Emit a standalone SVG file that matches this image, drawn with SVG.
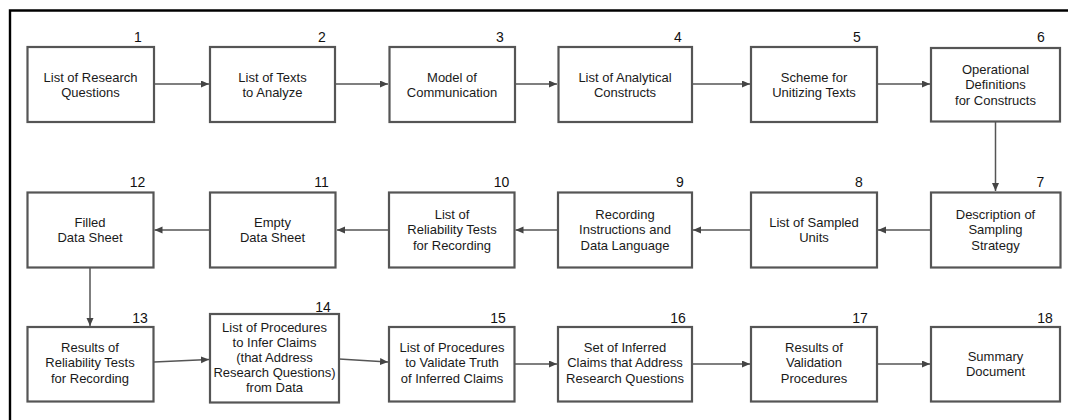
<svg xmlns="http://www.w3.org/2000/svg" width="1070" height="420" viewBox="0 0 1070 420">
<style>
.box{fill:#fff;stroke:#555;stroke-width:2.2}
.t{font-family:"Liberation Sans",Arial,sans-serif;font-size:13px;fill:#1a1a1a;text-anchor:middle}
.n{font-family:"Liberation Sans",Arial,sans-serif;font-size:14px;fill:#111;text-anchor:middle}
.c{fill:none;stroke:#555;stroke-width:1.5}
.frame{fill:none;stroke:#000;stroke-width:2.4}
</style>
<defs>
<marker id="ah" markerUnits="userSpaceOnUse" markerWidth="9" markerHeight="8" refX="8" refY="3.5" orient="auto">
<path d="M0,0 L8,3.5 L0,7 z" fill="#444"/>
</marker>
</defs>
<rect width="1070" height="420" fill="#fff"/>
<path class="frame" d="M10,425 L10,10.5 L1068,10.5"/>

<g id="connectors">
<line class="c" x1="154" y1="84" x2="209" y2="84" marker-end="url(#ah)"/>
<line class="c" x1="335" y1="84" x2="388" y2="84" marker-end="url(#ah)"/>
<line class="c" x1="515" y1="84" x2="557" y2="84" marker-end="url(#ah)"/>
<line class="c" x1="692" y1="84" x2="750" y2="84" marker-end="url(#ah)"/>
<line class="c" x1="877" y1="84" x2="930" y2="84" marker-end="url(#ah)"/>
<line class="c" x1="995.5" y1="122" x2="995.5" y2="191" marker-end="url(#ah)"/>
<line class="c" x1="931" y1="230" x2="878" y2="230" marker-end="url(#ah)"/>
<line class="c" x1="751" y1="230" x2="693" y2="230" marker-end="url(#ah)"/>
<line class="c" x1="558" y1="230" x2="515.5" y2="230" marker-end="url(#ah)"/>
<line class="c" x1="389" y1="230" x2="337" y2="230" marker-end="url(#ah)"/>
<line class="c" x1="210" y1="230" x2="154.5" y2="230" marker-end="url(#ah)"/>
<line class="c" x1="90" y1="268" x2="90" y2="326" marker-end="url(#ah)"/>
<line class="c" x1="154" y1="362" x2="209" y2="359.5" marker-end="url(#ah)"/>
<line class="c" x1="339" y1="359" x2="388" y2="362" marker-end="url(#ah)"/>
<line class="c" x1="514.5" y1="364" x2="557" y2="364" marker-end="url(#ah)"/>
<line class="c" x1="692" y1="364" x2="750" y2="364" marker-end="url(#ah)"/>
<line class="c" x1="877" y1="364" x2="930" y2="364" marker-end="url(#ah)"/>
</g>

<g id="n1"><rect class="box" x="27.5" y="47" width="126.5" height="75"/><text class="n" x="138" y="42">1</text>
<text class="t" x="90.5" y="81.5">List of Research</text><text class="t" x="90.5" y="96.5">Questions</text></g>
<g id="n2"><rect class="box" x="210" y="47" width="125" height="75"/><text class="n" x="322" y="42">2</text>
<text class="t" x="272.5" y="81.5">List of Texts</text><text class="t" x="272.5" y="96.5">to Analyze</text></g>
<g id="n3"><rect class="box" x="389.5" y="47" width="125.5" height="75"/><text class="n" x="500" y="42">3</text>
<text class="t" x="452" y="81.5">Model of</text><text class="t" x="452" y="96.5">Communication</text></g>
<g id="n4"><rect class="box" x="558.5" y="47" width="133.5" height="75"/><text class="n" x="678" y="42">4</text>
<text class="t" x="625" y="81.5">List of Analytical</text><text class="t" x="625" y="96.5">Constructs</text></g>
<g id="n5"><rect class="box" x="751" y="47" width="126" height="75"/><text class="n" x="857" y="42">5</text>
<text class="t" x="814" y="81.5">Scheme for</text><text class="t" x="814" y="96.5">Unitizing Texts</text></g>
<g id="n6"><rect class="box" x="931" y="48" width="129" height="73.5"/><text class="n" x="1041" y="42">6</text>
<text class="t" x="995.5" y="74">Operational</text><text class="t" x="995.5" y="89.3">Definitions</text><text class="t" x="995.5" y="104.6">for Constructs</text></g>

<g id="n7"><rect class="box" x="931" y="192.5" width="129.5" height="75"/><text class="n" x="1040.5" y="187">7</text>
<text class="t" x="995.5" y="219">Description of</text><text class="t" x="995.5" y="234.3">Sampling</text><text class="t" x="995.5" y="249.6">Strategy</text></g>
<g id="n8"><rect class="box" x="751" y="192.5" width="126" height="75"/><text class="n" x="859" y="187">8</text>
<text class="t" x="814" y="227">List of Sampled</text><text class="t" x="814" y="242">Units</text></g>
<g id="n9"><rect class="box" x="558" y="192.5" width="134" height="75"/><text class="n" x="680" y="187">9</text>
<text class="t" x="625" y="219">Recording</text><text class="t" x="625" y="234.3">Instructions and</text><text class="t" x="625" y="249.6">Data Language</text></g>
<g id="n10"><rect class="box" x="389" y="192.5" width="125.5" height="75"/><text class="n" x="501.5" y="187">10</text>
<text class="t" x="452" y="219">List of</text><text class="t" x="452" y="234.3">Reliability Tests</text><text class="t" x="452" y="249.6">for Recording</text></g>
<g id="n11"><rect class="box" x="210" y="192.5" width="125.5" height="75"/><text class="n" x="321.5" y="187">11</text>
<text class="t" x="272.5" y="227">Empty</text><text class="t" x="272.5" y="242">Data Sheet</text></g>
<g id="n12"><rect class="box" x="27.5" y="192.5" width="126" height="75"/><text class="n" x="137.5" y="187">12</text>
<text class="t" x="90" y="227">Filled</text><text class="t" x="90" y="242">Data Sheet</text></g>

<g id="n13"><rect class="box" x="27.5" y="327" width="126" height="74.5"/><text class="n" x="140" y="323">13</text>
<text class="t" x="90" y="352">Results of</text><text class="t" x="90" y="367.3">Reliability Tests</text><text class="t" x="90" y="382.6">for Recording</text></g>
<g id="n14"><rect class="box" x="210" y="314" width="129" height="88.5"/><text class="n" x="323" y="311.5">14</text>
<text class="t" x="274.5" y="331.7">List of Procedures</text><text class="t" x="274.5" y="346.7">to Infer Claims</text><text class="t" x="274.5" y="361.7">(that Address</text><text class="t" x="274.5" y="376.7">Research Questions)</text><text class="t" x="274.5" y="391.7">from Data</text></g>
<g id="n15"><rect class="box" x="389" y="327" width="125.5" height="74.5"/><text class="n" x="498" y="323">15</text>
<text class="t" x="452" y="352">List of Procedures</text><text class="t" x="452" y="367.3">to Validate Truth</text><text class="t" x="452" y="382.6">of Inferred Claims</text></g>
<g id="n16"><rect class="box" x="558" y="327" width="134" height="74.5"/><text class="n" x="678" y="323">16</text>
<text class="t" x="625" y="352">Set of Inferred</text><text class="t" x="625" y="367.3">Claims that Address</text><text class="t" x="625" y="382.6">Research Questions</text></g>
<g id="n17"><rect class="box" x="751" y="327" width="126" height="74.5"/><text class="n" x="860" y="323">17</text>
<text class="t" x="814" y="352">Results of</text><text class="t" x="814" y="367.3">Validation</text><text class="t" x="814" y="382.6">Procedures</text></g>
<g id="n18"><rect class="box" x="931" y="327" width="129" height="74.5"/><text class="n" x="1045" y="323">18</text>
<text class="t" x="995.5" y="361">Summary</text><text class="t" x="995.5" y="376">Document</text></g>
</svg>
